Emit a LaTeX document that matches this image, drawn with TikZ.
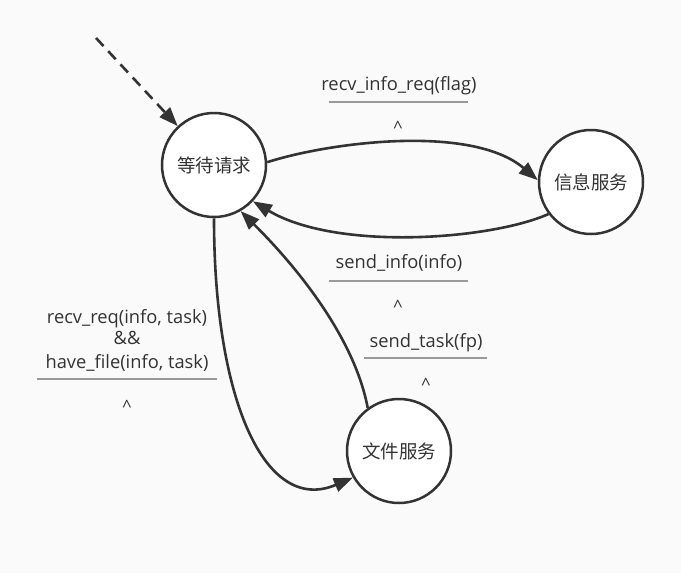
\documentclass[tikz,border=0pt]{standalone}
\usepackage{fontspec}
\setmainfont{Open Sans}
\newfontfamily\cjk{Noto Sans CJK SC}
\usetikzlibrary{arrows.meta}
\definecolor{bg}{HTML}{FAFAFA}
\definecolor{ink}{HTML}{333333}
\definecolor{rule}{HTML}{999999}
\definecolor{txt}{HTML}{333333}
\begin{document}
\begin{tikzpicture}[x=1pt,y=-1pt,
  state/.style={circle,draw=ink,line width=2.5pt,fill=white,minimum size=104pt,inner sep=0pt,font=\cjk\fontsize{18.5}{18.5}\selectfont,text=txt},
  edge/.style={draw=ink,line width=2.6pt,-{Triangle[length=19pt,width=14pt]}},
  lbl/.style={anchor=base,inner sep=0pt,font=\fontsize{18.3}{18.3}\selectfont,text=txt},
  sep/.style={draw=rule,line width=1.4pt},
  caret/.style={anchor=base,inner sep=0pt,font=\fontsize{17}{17}\selectfont,text=txt}]
\fill[bg] (0,0) rectangle (681,573);
\useasboundingbox (0,0) rectangle (681,573);
\node[state] (wait) at (214,165) {等待请求};
\node[state] (info) at (591,182) {信息服务};
\node[state] (file) at (399,451) {文件服务};
\coordinate (start) at (96,38);
\draw[edge,dashed,dash pattern=on 11pt off 7pt] (start) -- (wait.133);
\draw[edge] (wait.3) .. controls (330,142) and (472,124) .. (info.178);
\draw[edge] (info.217) .. controls (490,240) and (336,251) .. (wait.-43);
\draw[edge] (file.126) .. controls (355,340) and (300,270) .. (wait.-60);
\draw[edge] (wait.-90) .. controls (214,400) and (265,515) .. (file.210);
% labels
\node[lbl] (l1) at (399,90) {recv\_info\_req(flag)};
\coordinate (l1a) at (329,102); \coordinate (l1b) at (468,102);
\draw[sep] (l1a) -- (l1b);
\node[caret] (c1) at (398,133) {\textasciicircum};
\node[lbl] (l2) at (399,268) {send\_info(info)};
\coordinate (l2a) at (329,281); \coordinate (l2b) at (468,281);
\draw[sep] (l2a) -- (l2b);
\node[caret] (c2) at (398,312) {\textasciicircum};
\node[lbl] (l3) at (426,347) {send\_task(fp)};
\coordinate (l3a) at (364,358); \coordinate (l3b) at (487,358);
\draw[sep] (l3a) -- (l3b);
\node[caret] (c3) at (426,390) {\textasciicircum};
\node[lbl] (l4a) at (127,323) {recv\_req(info, task)};
\node[lbl] (l4b) at (127,344) {\&\&};
\node[lbl] (l4c) at (127,368) {have\_file(info, task)};
\coordinate (l4s) at (37,379); \coordinate (l4e) at (217,379);
\draw[sep] (l4s) -- (l4e);
\node[caret] (c4) at (127,412) {\textasciicircum};
\end{tikzpicture}
\end{document}
